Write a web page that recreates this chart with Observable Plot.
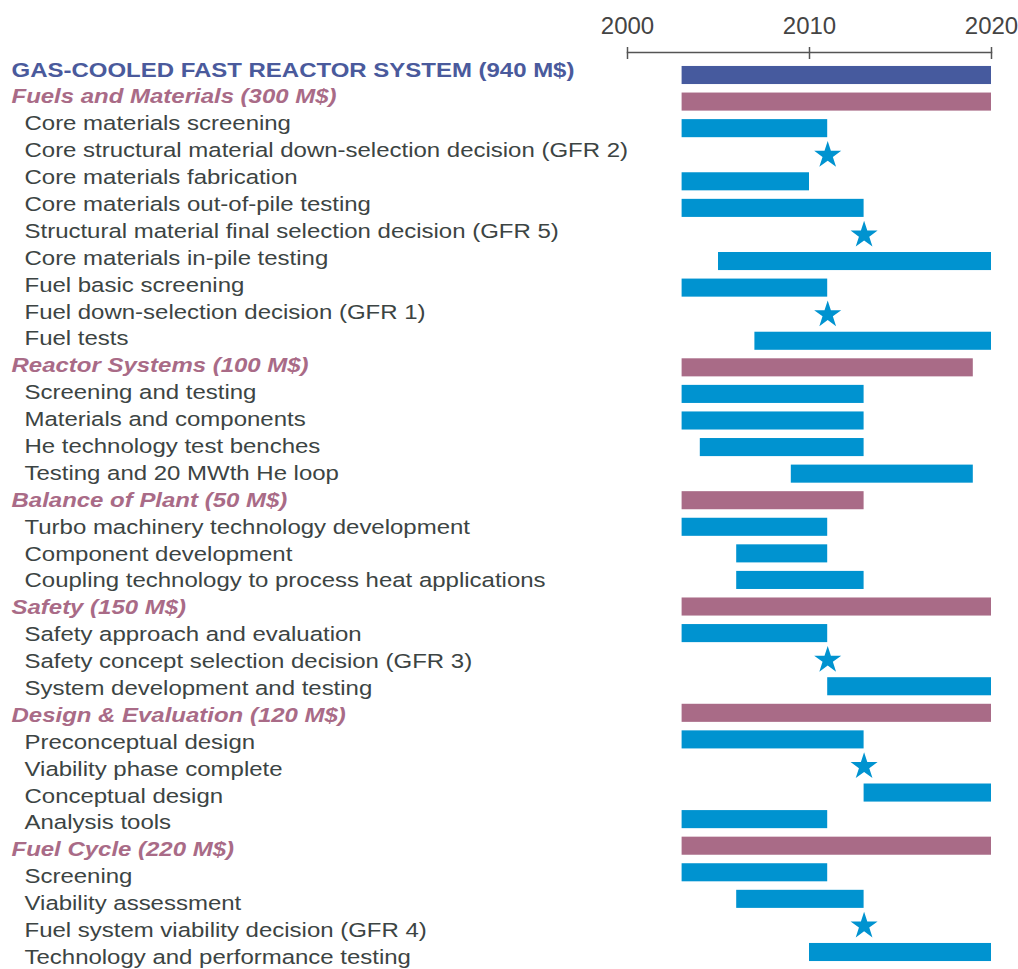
<!DOCTYPE html>
<html>
<head>
<meta charset="utf-8">
<script src="https://cdn.jsdelivr.net/npm/d3@7"></script>
<script src="https://cdn.jsdelivr.net/npm/@observablehq/plot@0.6"></script>
<style>
  html, body { margin: 0; padding: 0; background: #fff; }
  #chart svg { display: block; }
</style>
</head>
<body>
<div id="chart"></div>
<script>
// Row labels (top to bottom)
const labels = [
  "GAS-COOLED FAST REACTOR SYSTEM (940 M$)",
  "Fuels and Materials (300 M$)",
  "Core materials screening",
  "Core structural material down-selection decision (GFR 2)",
  "Core materials fabrication",
  "Core materials out-of-pile testing",
  "Structural material final selection decision (GFR 5)",
  "Core materials in-pile testing",
  "Fuel basic screening",
  "Fuel down-selection decision (GFR 1)",
  "Fuel tests",
  "Reactor Systems (100 M$)",
  "Screening and testing",
  "Materials and components",
  "He technology test benches",
  "Testing and 20 MWth He loop",
  "Balance of Plant (50 M$)",
  "Turbo machinery technology development",
  "Component development",
  "Coupling technology to process heat applications",
  "Safety (150 M$)",
  "Safety approach and evaluation",
  "Safety concept selection decision (GFR 3)",
  "System development and testing",
  "Design & Evaluation (120 M$)",
  "Preconceptual design",
  "Viability phase complete",
  "Conceptual design",
  "Analysis tools",
  "Fuel Cycle (220 M$)",
  "Screening",
  "Viability assessment",
  "Fuel system viability decision (GFR 4)",
  "Technology and performance testing"
];
// Row kinds: head = system total, cat = category, task = activity bar, mile = milestone star
const kinds = [
  "head", "cat", "task", "mile", "task", "task", "mile", "task", "task", "mile", "task",
  "cat", "task", "task", "task", "task",
  "cat", "task", "task", "task",
  "cat", "task", "mile", "task",
  "cat", "task", "mile", "task", "task",
  "cat", "task", "task", "mile", "task"
];
// Start year (or milestone year)
const starts = [
  2003, 2003, 2003, 2011, 2003, 2003, 2013, 2005, 2003, 2011, 2007,
  2003, 2003, 2003, 2004, 2009,
  2003, 2003, 2006, 2006,
  2003, 2003, 2011, 2011,
  2003, 2003, 2013, 2013, 2003,
  2003, 2003, 2006, 2013, 2010
];
// End year (null for milestones)
const ends = [
  2020, 2020, 2011, null, 2010, 2013, null, 2020, 2011, null, 2020,
  2019, 2013, 2013, 2013, 2019,
  2013, 2011, 2011, 2013,
  2020, 2011, null, 2020,
  2020, 2013, null, 2020, 2011,
  2020, 2011, 2013, null, 2020
];
const tickYears = [2000, 2010, 2020];

const kindColors = { head: "#465a9e", cat: "#a96b87", task: "#0093d0" };

// layout constants (row units)
const barHalf = 0.34;          // half bar thickness in rows
const textPitch = 1.0117;      // label rows are slightly more widely spaced than bars
const textOffset = -0.207;

const rows = labels.map((label, i) => ({ i, label, kind: kinds[i], start: starts[i], end: ends[i] }));
const barRows = rows.filter(d => d.kind !== "mile");
const mileRows = rows.filter(d => d.kind === "mile");
const ty = d => d.i * textPitch + textOffset;

const chart = Plot.plot({
  width: 1018,
  height: 969,
  marginLeft: 627,
  marginRight: 27,
  marginTop: 58,
  marginBottom: 0,
  style: { fontFamily: "'Liberation Sans', Arial, Helvetica, sans-serif", fontSize: "20px", background: "#fff" },
  x: { domain: [2000, 2020] },
  y: { type: "linear", domain: [0, labels.length - 1], range: [75, 952], axis: null },
  color: { domain: Object.keys(kindColors), range: Object.values(kindColors) },
  marks: [
    Plot.axisX({
      anchor: "top", ticks: tickYears, tickFormat: d => String(d),
      tickSize: 12, tickPadding: 12.5, stroke: "#555", strokeWidth: 1.5, strokeOpacity: 1,
      fill: "#444", fontSize: 24, label: null
    }),
    Plot.frame({ anchor: "top", dy: -6, stroke: "#555", strokeWidth: 1.5 }),
    Plot.rect(barRows, { x1: "start", x2: "end", y1: d => d.i - barHalf, y2: d => d.i + barHalf, fill: "kind" }),
    Plot.dot(mileRows, { x: "start", y: "i", symbol: "star", r: 8.5, fill: "#0093d0", stroke: null }),
    Plot.text(rows.filter(d => d.kind === "head"), {
      y: ty, text: "label", frameAnchor: "left", dx: -616, textAnchor: "start",
      fill: "#4a5a9c", fontWeight: "bold", fontSize: 20.5
    }),
    Plot.text(rows.filter(d => d.kind === "cat"), {
      y: ty, text: "label", frameAnchor: "left", dx: -616, textAnchor: "start",
      fill: "#a96b87", fontWeight: "bold", fontStyle: "italic", fontSize: 20.5
    }),
    Plot.text(rows.filter(d => d.kind === "task" || d.kind === "mile"), {
      y: ty, text: "label", frameAnchor: "left", dx: -603, textAnchor: "start",
      fill: "#3c4443", fontSize: 20.5
    })
  ]
});
// the reference's label type is horizontally wider than Helvetica/Arial: stretch glyphs around their anchor
d3.select(chart).selectAll('g[aria-label="text"] text').each(function () {
  const t = this.getAttribute("transform") || "";
  this.setAttribute("transform", t + " scale(1.17,1)");
});
document.getElementById("chart").appendChild(chart);
</script>
</body>
</html>
